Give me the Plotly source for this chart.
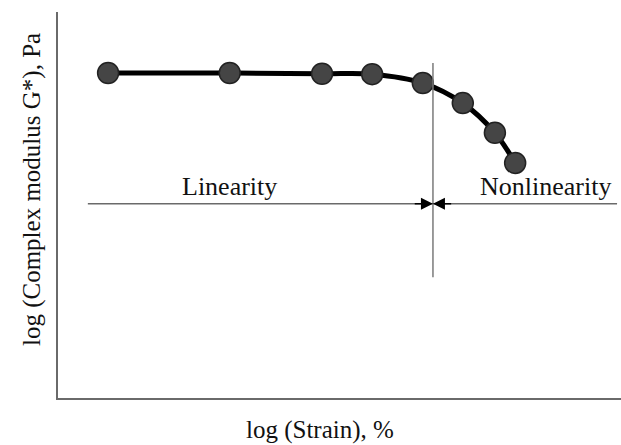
import plotly.graph_objects as go

# Data (arbitrary log units)
strain = [0.89, 3.05, 4.69, 5.58, 6.48, 7.19, 7.76, 8.12]
modulus = [8.42, 8.42, 8.40, 8.39, 8.16, 7.64, 6.87, 6.09]

limit_x = 6.66          # linear viscoelastic limit
limit_y_range = [3.13, 8.68]
arrow_y = 5.03
arrow_x_range = [0.53, 9.93]
labels = ["Linearity", "Nonlinearity"]
label_x = [3.05, 8.65]
label_y = 5.47

FONT = "Liberation Serif, Times New Roman, serif"

fig = go.Figure()
fig.add_trace(go.Scatter(
    x=strain, y=modulus, mode="lines+markers",
    line=dict(color="black", width=5, shape="spline", smoothing=1.0),
    marker=dict(size=21, color="#454545", line=dict(color="#222222", width=1.5)),
    showlegend=False, hoverinfo="skip"))

shapes = [
    dict(type="line", xref="x", yref="y", x0=limit_x, x1=limit_x,
         y0=limit_y_range[0], y1=limit_y_range[1], line=dict(color="#7a7a7a", width=1.5)),
    dict(type="line", xref="x", yref="y", x0=arrow_x_range[0], x1=arrow_x_range[1],
         y0=arrow_y, y1=arrow_y, line=dict(color="#6a6a6a", width=1.5)),
]

annotations = [
    dict(x=limit_x, y=arrow_y, ax=limit_x - 0.35, ay=arrow_y, xref="x", yref="y",
         axref="x", ayref="y", text="", showarrow=True, arrowhead=2, arrowsize=1.6,
         arrowwidth=1.5, arrowcolor="black"),
    dict(x=limit_x, y=arrow_y, ax=limit_x + 0.35, ay=arrow_y, xref="x", yref="y",
         axref="x", ayref="y", text="", showarrow=True, arrowhead=2, arrowsize=1.6,
         arrowwidth=1.5, arrowcolor="black"),
]
for t, lx in zip(labels, label_x):
    annotations.append(dict(x=lx, y=label_y, xref="x", yref="y", text=t, showarrow=False,
                            font=dict(family=FONT, size=26, color="#111111"),
                            xanchor="center", yanchor="middle"))
annotations.append(dict(x=0.465, y=-0.083, xref="paper", yref="paper",
                        text="log (Strain), %", showarrow=False,
                        font=dict(family=FONT, size=25, color="#111111"),
                        xanchor="center", yanchor="middle"))
annotations.append(dict(x=-0.046, y=0.539, xref="paper", yref="paper",
                        text="log (Complex modulus G*), Pa", showarrow=False, textangle=-90,
                        font=dict(family=FONT, size=25, color="#111111"),
                        xanchor="center", yanchor="middle"))

fig.update_layout(
    width=621, height=445,
    margin=dict(l=58, r=0, t=12, b=47),
    paper_bgcolor="white", plot_bgcolor="white",
    shapes=shapes, annotations=annotations,
    xaxis=dict(range=[0, 10], showgrid=False, zeroline=False, showticklabels=False,
               ticks="", showline=True, linecolor="#6a6a6a", linewidth=2),
    yaxis=dict(range=[0, 10], showgrid=False, zeroline=False, showticklabels=False,
               ticks="", showline=True, linecolor="#6a6a6a", linewidth=2),
)

fig.write_html(
    "out.html",
    config={"displayModeBar": False, "staticPlot": True},
    post_script="document.body.style.margin='0';document.body.style.overflow='hidden';",
)
